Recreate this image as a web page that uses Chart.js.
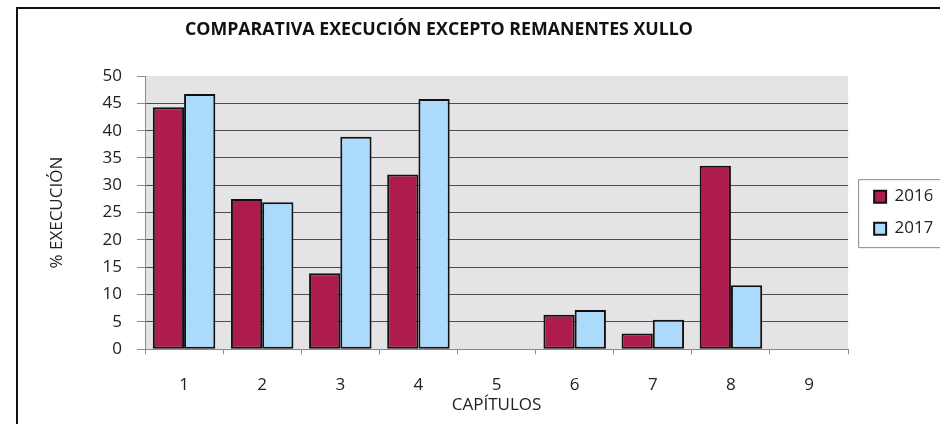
<!DOCTYPE html>
<html>
<head>
<meta charset="utf-8">
<script src="https://cdn.jsdelivr.net/npm/chart.js@4.4.0/dist/chart.umd.min.js"></script>
<style>
    html, body { margin: 0; padding: 0; background: #fff; }
    #wrap { width: 940px; height: 424px; }
</style>
</head>
<body>
<div id="wrap"><canvas id="execChart" width="940" height="424"></canvas></div>
<script>
// Datos do gráfico
const chartTitle = 'COMPARATIVA EXECUCIÓN EXCEPTO REMANENTES XULLO';
const capitulos = ['1', '2', '3', '4', '5', '6', '7', '8', '9'];
const exec2016 = [44.3, 27.5, 13.9, 32.0, 0, 6.3, 2.9, 33.6, 0];
const exec2017 = [46.7, 26.9, 38.9, 45.8, 0, 7.2, 5.4, 11.7, 0];
const yMax = 50;
const yStep = 5;

const FONT = "'Open Sans', 'Noto Sans', sans-serif";

// fondo, marco, título e caixa da lenda
const framePlugin = {
    id: 'frame',
    beforeDraw(chart) {
        const { ctx, chartArea } = chart;
        ctx.save();
        ctx.fillStyle = '#fff';
        ctx.fillRect(0, 0, chart.width, chart.height);
        ctx.fillStyle = '#e4e4e7';
        ctx.fillRect(chartArea.left, chartArea.top, chartArea.right - chartArea.left, chartArea.bottom - chartArea.top);
        ctx.restore();
    },
    afterLayout(chart) {
        if (chart.legend) chart.legend.left += 11;
    },
    afterDraw(chart) {
        const { ctx } = chart;
        ctx.save();
        // marco exterior
        ctx.strokeStyle = '#111';
        ctx.lineWidth = 2;
        ctx.beginPath();
        ctx.moveTo(17, chart.height);
        ctx.lineTo(17, 8);
        ctx.lineTo(chart.width, 8);
        ctx.stroke();

        // título
        ctx.fillStyle = '#111';
        ctx.font = "bold 18px " + FONT;
        ctx.textAlign = 'center';
        ctx.textBaseline = 'middle';
        ctx.fillText(chartTitle, 439, 30, 508);

        // caixa da lenda
        const hb = chart.legend && chart.legend.legendHitBoxes;
        if (hb && hb.length) {
            const left = Math.min(...hb.map(b => b.left)) - 16;
            const top = Math.min(...hb.map(b => b.top)) - 9;
            const bottom = Math.max(...hb.map(b => b.top + b.height)) + 10;
            ctx.strokeStyle = '#8a8a8a';
            ctx.lineWidth = 1;
            ctx.beginPath();
            ctx.moveTo(chart.width, top + 0.5);
            ctx.lineTo(left + 0.5, top + 0.5);
            ctx.lineTo(left + 0.5, bottom + 0.5);
            ctx.lineTo(chart.width, bottom + 0.5);
            ctx.stroke();
        }
        ctx.restore();
    }
};

new Chart(document.getElementById('execChart').getContext('2d'), {
    type: 'bar',
    data: {
        labels: capitulos,
        datasets: [{
            label: '2016',
            data: exec2016,
            backgroundColor: '#ae1b4e',
            borderColor: '#111',
            borderWidth: 2,
            borderSkipped: false
        }, {
            label: '2017',
            data: exec2017,
            backgroundColor: '#acdafc',
            borderColor: '#111',
            borderWidth: 2,
            borderSkipped: false
        }]
    },
    options: {
        responsive: false,
        animation: false,
        layout: { padding: { left: 20, top: 76, right: 7.5, bottom: 0 } },
        datasets: { bar: { categoryPercentage: 0.8, barPercentage: 1.0 } },
        plugins: {
            title: { display: false },
            tooltip: { enabled: false },
            legend: {
                position: 'right',
                fullSize: false,
                labels: {
                    color: '#222',
                    font: { family: FONT, size: 17 },
                    boxWidth: 12,
                    boxHeight: 12,
                    padding: 15
                }
            }
        },
        scales: {
            x: {
                afterFit(scale) { scale.height = 74.7; },
                grid: {
                    drawOnChartArea: false,
                    drawTicks: true,
                    tickLength: 5,
                    color: '#8a8a8a',
                    offset: true
                },
                border: { color: '#8a8a8a', width: 1 },
                ticks: {
                    color: '#222',
                    font: { family: FONT, size: 17 },
                    padding: 21
                },
                title: {
                    display: true,
                    text: 'CAPÍTULOS',
                    color: '#222',
                    font: { family: FONT, size: 17 },
                    padding: { top: 0, bottom: 9 }
                }
            },
            y: {
                min: 0,
                max: yMax,
                afterFit(scale) { scale.width = 125; },
                grid: {
                    color: ctx => (ctx.tick && (ctx.tick.value === yMax || ctx.tick.value === 0)) ? 'rgba(0,0,0,0)' : '#4d4d4d',
                    tickColor: '#8a8a8a',
                    tickLength: 8
                },
                border: { color: '#8a8a8a', width: 1 },
                ticks: {
                    stepSize: yStep,
                    color: '#222',
                    font: { family: FONT, size: 17 },
                    padding: 15
                },
                title: {
                    display: true,
                    text: '% EXECUCIÓN',
                    color: '#222',
                    font: { family: FONT, size: 17 },
                    padding: { top: 27, bottom: 0 }
                }
            }
        }
    },
    plugins: [framePlugin]
});
</script>
</body>
</html>
